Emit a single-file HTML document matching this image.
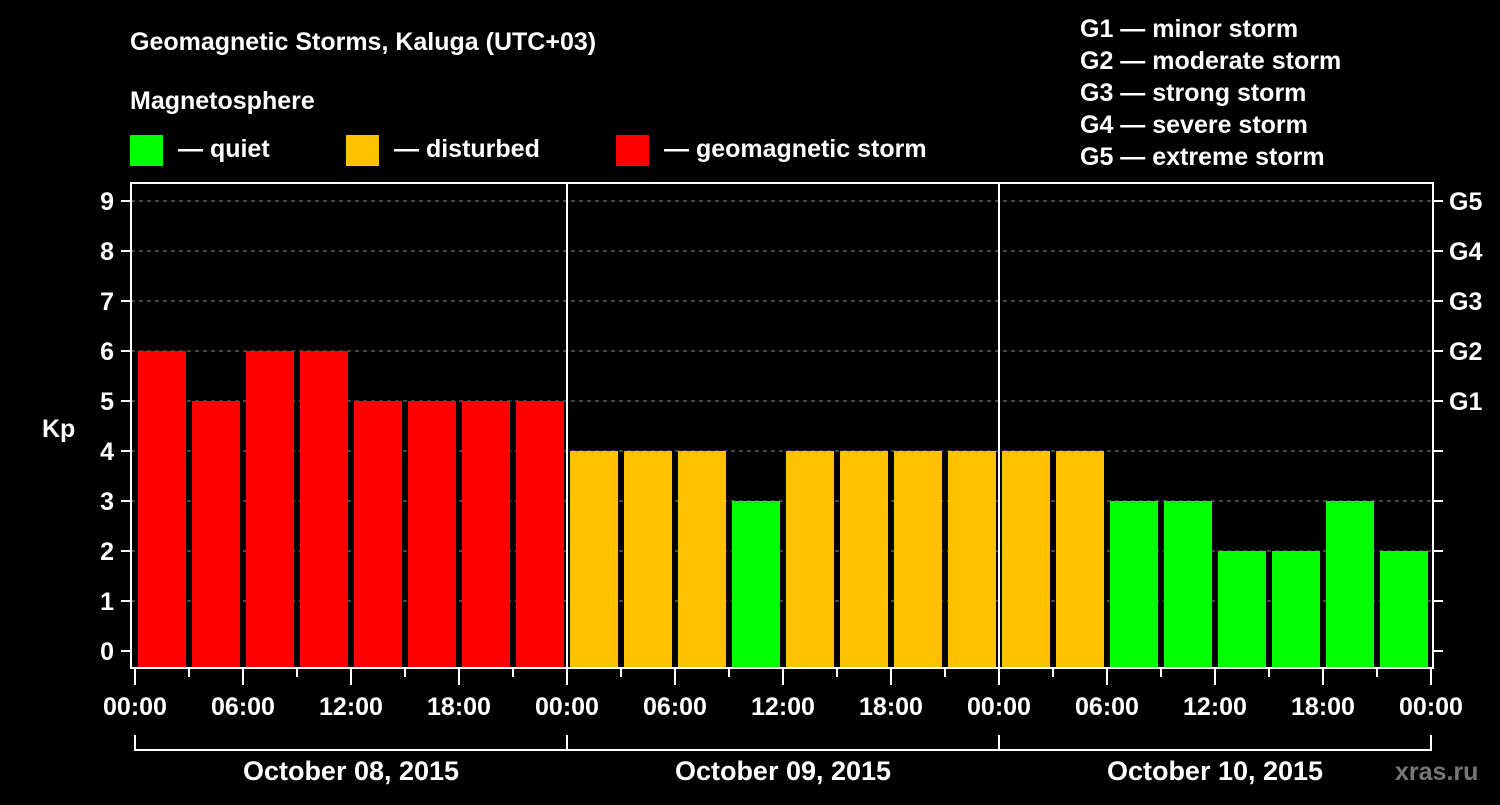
<!DOCTYPE html>
<html><head><meta charset="utf-8"><style>
body{margin:0;background:#000;width:1500px;height:800px;overflow:hidden}
svg text{font-family:"Liberation Sans",Arial,sans-serif;font-weight:bold;fill:#fff}
</style></head><body>
<svg id="chart" width="1500" height="800" xmlns="http://www.w3.org/2000/svg">
<text x="130" y="50" font-size="25">Geomagnetic Storms, Kaluga (UTC+03)</text>
<text x="130" y="109" font-size="25">Magnetosphere</text>
<g>
<rect x="130" y="135" width="33" height="31" fill="#00ff00"/>
<text x="178" y="157" font-size="25">— quiet</text>
<rect x="346" y="135" width="33" height="31" fill="#ffc000"/>
<text x="394" y="157" font-size="25">— disturbed</text>
<rect x="616" y="135" width="33" height="31" fill="#ff0000"/>
<text x="664" y="157" font-size="25">— geomagnetic storm</text>
</g>
<g font-size="25">
<text x="1080" y="37" font-size="25">G1 — minor storm</text>
<text x="1080" y="69" font-size="25">G2 — moderate storm</text>
<text x="1080" y="101" font-size="25">G3 — strong storm</text>
<text x="1080" y="133" font-size="25">G4 — severe storm</text>
<text x="1080" y="165" font-size="25">G5 — extreme storm</text>
</g>
<text x="42" y="437" font-size="25">Kp</text>
<text x="1395" y="780" font-size="25" style="fill:#777">xras.ru</text>
<g id="grid"></g><g id="bars"></g><g id="axes"></g>
</svg>
<script>
const days=["October 08, 2015","October 09, 2015","October 10, 2015"];
const kp=[6,5,6,6,5,5,5,5, 4,4,4,3,4,4,4,4, 4,4,3,3,2,2,3,2];
const yTicks=[0,1,2,3,4,5,6,7,8,9];
const gLabels=[[5,"G1"],[6,"G2"],[7,"G3"],[8,"G4"],[9,"G5"]];
const hourLabels=["00:00","06:00","12:00","18:00"];
const NS="http://www.w3.org/2000/svg";
const L=131,R=1433,T=183,B=668,X0=135,HW=18;
const y=v=>651-v*50;
const x=h=>X0+h*HW;
function mk(p,tag,a){const e=document.createElementNS(NS,tag);for(const k in a)e.setAttribute(k,a[k]);document.getElementById(p).appendChild(e);return e;}
const col=v=>v>=5?"#ff0000":v>=4?"#ffc000":"#00ff00";
kp.forEach((v,i)=>{const r=mk("bars","rect",{x:x(i*3)+3,y:y(v),width:48,height:B-y(v),fill:col(v)});

});
yTicks.forEach(v=>{
 if(v>0){const g=mk("grid","line",{x1:L,x2:R,y1:y(v),y2:y(v),stroke:"#888","stroke-dasharray":"4,4"});
 
 }
 const t=mk("axes","line",{x1:121,x2:L,y1:y(v),y2:y(v),stroke:"#fff","stroke-width":2});
 
 
 const t2=mk("axes","line",{x1:R,x2:R+10,y1:y(v),y2:y(v),stroke:"#fff","stroke-width":2});
 
 
 const l=mk("axes","text",{x:114,y:y(v)+9,"font-size":25,"text-anchor":"end"});l.textContent=v;
 
 
});
gLabels.forEach(([v,s])=>{const l=mk("axes","text",{x:1449,y:y(v)+9,"font-size":25});l.textContent=s;
 
 });
const fr=mk("axes","rect",{x:L,y:T,width:R-L,height:B-T,fill:"none",stroke:"#fff","stroke-width":2});


for(let d=1;d<days.length;d++){const s=mk("axes","line",{x1:x(d*24),x2:x(d*24),y1:T,y2:B,stroke:"#fff","stroke-width":2});
 
 }
for(let h=0;h<=days.length*24;h+=3){const long=h%6==0;
 const t=mk("axes","line",{x1:x(h),x2:x(h),y1:B,y2:long?685:677,stroke:"#fff","stroke-width":2});
 
 
 if(long){const l=mk("axes","text",{x:x(h),y:715,"font-size":25,"text-anchor":"middle"});l.textContent=hourLabels[(h/6)%4];
 
 }}
days.forEach((d,i)=>{
 const a=x(i*24),b=x((i+1)*24);
 const p=mk("axes","path",{d:`M${a} 735V750H${b}V735`,fill:"none",stroke:"#fff","stroke-width":2});
 
 
 const l=mk("axes","text",{x:(a+b)/2,y:780,"font-size":27,"text-anchor":"middle"});l.textContent=d;
 
 
});
</script>
</body></html>
